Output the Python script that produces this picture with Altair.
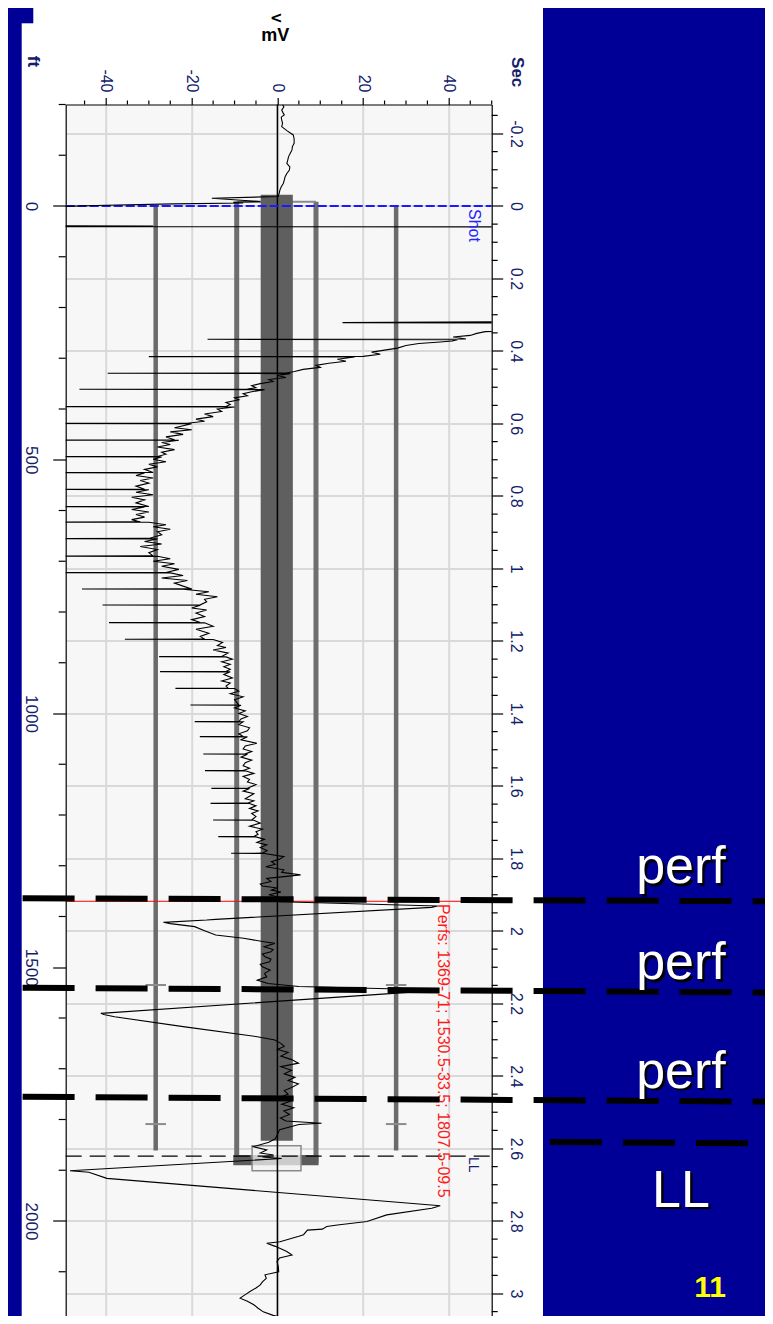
import altair as alt
import pandas as pd

BLUE = "#000096"
LABEL = "#14206a"
FONT = "Liberation Sans"

# plot-area size (pixels) and scale domains
W = 426
H = 1211.5
MV_DOMAIN = [-49.4, 50]
FT_DOMAIN = [-200, 2187.2]
SEC_DOMAIN = [-0.28, 3.0621]

# ---------------- SP trace (depth ft, mV) ----------------
trace_top = [
    (-200, 1.2), (-195, 1.5), (-189, 1.0), (-184, 1.3), (-179.5, 1.6), (-175, 0.9),
    (-169.6, 1.0), (-163, 1.2), (-156.5, 1.0), (-148.6, 2.2), (-140, 3.7), (-132, 3.9),
    (-123.6, 3.9), (-117, 3.5), (-110.5, 3.4), (-104, 3.0), (-97.4, 2.6), (-90, 2.4),
    (-84.2, 2.2), (-77, 2.9), (-71, 2.8), (-64, 2.2), (-57.9, 1.8), (-51, 1.6),
    (-44.8, 1.4), (-38, 0.9), (-31.7, 0.6), (-25, 0.4), (-18.6, 0.2), (-15.3, -15.3),
    (-8.7, -4.0), (-7.5, -10.3), (-6, -8.0), (-4.1, -24.3), (-1.5, -40), (1.2, -52),
    (2, -60), (38.5, -60), (39.5, -29), (40.5, -45), (40.8, -60), (41.2, 60),
]
trace_upper = [
    (228, 60), (229.9, 15.2), (230.6, 60), (244, 60), (247.6, 48.5), (251, 46.5),
    (255, 45), (258, 41), (262, 44), (262.7, -16.3), (263.4, 42), (266, 40.8),
    (268, 38), (271, 33), (275, 30), (280, 28), (284, 25), (288, 22), (292, 24),
    (296.3, 20), (296.8, -30), (297.5, 18), (302, 14), (306, 16), (310, 12), (314, 9),
    (318, 10), (322, 6), (326, 4), (329.2, 2), (329.7, -39.6), (330.3, 3), (334, 0),
    (338, 2), (342, -2), (346, -1), (350, -4), (354, -6), (358, -5), (360.8, -7),
    (361.2, -46.2), (361.8, -3), (366, -6), (370, -8), (374, -7), (378, -10), (382, -9),
    (387, -12), (391, -11), (395, -12), (395.4, -60), (396, -10), (400, -14), (405, -13),
    (410, -17), (415, -15), (420, -19), (424, -17), (428, -21), (428.2, -60), (428.8, -20),
    (433, -22), (437, -24), (441, -20), (445, -25), (450, -22), (455, -26), (460.7, -24),
    (461.1, -60), (461.7, -23), (466, -27), (470, -25), (475, -28), (480, -24), (485, -27),
    (489, -26), (493.5, -28), (493.9, -60), (494.5, -27), (499, -29), (504, -26),
    (509, -30), (514, -28), (519, -31), (525, -29), (525.4, -60), (526, -31), (531, -33),
    (536, -29), (541, -32), (546, -30), (552, -33), (558, -31), (558.3, -60), (559, -30),
    (564, -33), (569, -29), (574, -34), (579, -31), (585, -33), (592, -30), (592.4, -60),
    (593, -31), (598, -34), (603, -30), (608, -33), (613, -31), (618, -34), (622.5, -32),
    (622.7, -60), (623.3, -30), (628, -26), (632, -29), (637, -25), (642, -28), (648, -27),
    (655, -30), (655.5, -60), (656, -28), (661, -31), (666, -27), (671, -32), (677, -28),
    (683, -30), (689.4, -29), (689.7, -60), (690.3, -28), (695, -25), (700, -29),
    (705, -24), (710, -27), (716, -23), (722.3, -26), (722.5, -60), (723, -25), (728, -22),
    (733, -27), (738, -21), (743, -24), (749, -22), (754.5, -20), (754.7, -45.6),
    (755.2, -22), (760, -16), (765, -19), (770, -14), (775, -17), (780, -16.5), (785.9, -18),
]
trace_middle = [
    (786.2, -40.8), (786.6, -18), (792, -20), (796, -16.5), (802, -19), (809, -17),
    (815, -20), (820.7, -18), (821, -39.3), (821.4, -17), (828, -15), (834, -19),
    (842, -16), (848, -18), (853.5, -17), (853.8, -35.6), (854.2, -15), (860, -12.8),
    (866, -14), (870, -12), (875, -15), (881, -11.5), (887.7, -13), (888, -27.6),
    (888.4, -12), (893, -10.5), (898, -13), (903, -11), (908, -12.5), (913, -11),
    (917.2, -12), (917.5, -27.4), (917.9, -11), (923, -12.5), (930, -10.5), (936, -13),
    (940, -11), (946, -12), (950.1, -11.5), (950.4, -23.8), (950.8, -10), (956, -9),
    (961, -11), (967, -8), (973, -10), (978, -9.5), (983, -9), (983.2, -20.3),
    (983.6, -8.5), (989, -10), (995, -7.5), (1000, -9), (1006, -7), (1011, -8.5),
    (1015.8, -9), (1016.1, -19.3), (1016.5, -8), (1022, -9), (1028, -6.5), (1034, -7),
    (1040, -9), (1045.3, -8), (1045.6, -18.1), (1046, -7), (1052, -8.5), (1058.7, -4.8),
    (1064, -7.5), (1070, -8), (1075, -6), (1079.5, -7.5), (1079.8, -17.3), (1080.2, -7),
    (1086, -8.5), (1092, -6), (1097, -7.5), (1103, -8), (1108, -6.5), (1112.3, -8),
    (1112.6, -16.9), (1113, -7.5), (1118, -5.5), (1124, -8), (1130, -6.5), (1135, -7),
    (1140, -5), (1147.2, -7), (1147.5, -15.4), (1147.9, -6.5), (1153, -8), (1158, -5.5),
    (1163, -6.5), (1168, -7.5), (1172, -5.5), (1176.7, -7), (1177, -15.6), (1177.4, -6.5),
    (1182, -5), (1187, -6.5), (1192, -4.5), (1197, -6), (1203, -5), (1209.6, -6),
    (1209.9, -15), (1210.3, -5.5), (1216, -4), (1222, -6.5), (1228, -3.5), (1233, -5),
    (1238, -4.5), (1242.4, -5.5), (1242.7, -13.8), (1243.1, -5), (1248, -3), (1254, -4.8),
    (1259, -2.5), (1264, -4), (1270, -2.4), (1275.2, -3.5), (1275.5, -10.8), (1276, -3),
    (1282, 1.5), (1287, 0.5), (1292, -1.4), (1297, -0.5), (1302, -2.7), (1308, 1.5),
    (1313, 1), (1318, 5.4), (1322, 1), (1325, -2.5), (1331, -1.5), (1336, -4),
    (1340, -3.5), (1344, 0), (1348, -1.4),
]
trace_lower = [
    (1352, 0.8), (1357, -2), (1362, 0.5), (1366, -1), (1370.8, 0.6), (1379.3, 37.4),
    (1382, 36), (1405.6, -14.4), (1407, -16.5), (1411.5, -26.6), (1414, -25), (1420, -19.3),
    (1428, -17), (1436.6, -14.4), (1443, -7.9), (1449.7, -3.1), (1453, -0.6), (1459.6, -3.1),
    (1465, -1), (1469.5, -1.5), (1474, -3.5), (1479.3, -2.9), (1484, -1.5), (1489.2, -1.8),
    (1494, -4), (1499, -3.5), (1505.7, -1.7), (1512, -3), (1518.9, -2.5), (1525.4, -4.7),
    (1532, -2.2), (1538, 5), (1544.8, 37.4), (1546, 36.5), (1590.8, -41.2), (1593, -40.5),
    (1597.4, -38), (1617, -22), (1636.8, -4.7), (1643.4, -0.6), (1650, 0.8), (1656, 1.6),
    (1662, 0), (1668, 2.5), (1675, 0.8), (1682, 3.3), (1689, 4.9), (1696, 0.8), (1703, 3.3),
    (1710, 1.6), (1717, 4.1), (1723, 2.5), (1730, 4.9), (1737, 3.3), (1743, 1.6),
    (1750, 2.5), (1757, 0.5), (1764, 3), (1770, 1), (1777, 3.8), (1783, 1.5), (1790, 2.8),
    (1797, 0.7), (1803, 2), (1807.5, 10.3), (1810, 5), (1820, 0.5), (1830, 0),
    (1838, -0.5), (1845, -2), (1853.6, -5.6), (1860, -2.5), (1866, -4), (1870, -0.9),
    (1874, -3.5), (1877, 1.0),
]
trace_bottom = [
    (1901, -48.4), (1904, -44), (1916, -39.8), (1970, 38), (1975, 36), (1988, 25.5),
    (2001, 20.9), (2008, 14), (2011, 11.5), (2016, 10.5), (2018, 7), (2027, 6.1),
    (2030, 5), (2041, 0.6), (2044, -2.5), (2050, -0.5), (2060, 2.2), (2067, 3.4),
    (2073, 0.5), (2080, -0.1), (2090, 0.2), (2100, 0.3), (2106, -2.9), (2113, -2.6),
    (2120, -3.5), (2126, -4), (2132, -5), (2139, -6.4), (2145, -7.5), (2152, -8.7),
    (2158, -7), (2165, -5.5), (2172, -4.5), (2179, -3.3), (2186, -1), (2190, 1),
]

# ---------------- well sketch ----------------
outer_casing_mv = [-28.4, 27.7]
outer_casing_ft = [0, 1861]
cross_ft = [1535, 1809]
cross_half_mv = 2.4
casing_mv = [-9.5, 9.0]
casing_ft = [-8.5, 1885]
casing_shoe_ft = [1870, 1890]
casing_shoe_mv = [-10.3, 9.6]
tubing_mv = [-3.9, 3.6]
tubing_ft = [-22, 1842]
shoe_box_mv = [-5.9, 5.5]
shoe_box_ft = [1851.6, 1901]

shot_ft = 0
perf_line_ft = 1370
ll_ft = 1872

# ---------------- text ----------------
shot_label = ("Shot", 45.8, 5.9)
ll_label = ("LL", 45.6, 1873.9)
perfs_label = ("Perfs: 1369-71; 1530.5-33.5; 1807.5-09.5", 38.7, 1375.4)

# overlay dashed markers (depth at left end, depth at right end)
marker_left_ft = [1364.1, 1540.3, 1755.1]
marker_right_ft = [1370.0, 1549.8, 1764.9]
ll_marker_ft = [1844.3, 1847.3]
overlay_labels = ["perf", "perf", "perf", "LL"]
overlay_label_ft = [1334, 1523.2, 1737.9, 1972.4]
slide_number = "11"
slide_number_ft = 2149.8
top_glyph = "<"

# ---------------- axis ticks ----------------
ft_major = [0, 500, 1000, 1500, 2000]
ft_minor = [v for v in range(-200, 2101, 100) if v % 500 != 0]
mv_major = [-40, -20, 0, 20, 40]
mv_minor = [-45, -35, -30, -25, -15, -10, -5, 5, 10, 15, 25, 30, 35, 45, 50]
sec_major = [round(-0.2 + 0.2 * i, 1) for i in range(17)]
sec_minor = [round(-0.25 + 0.05 * i, 2) for i in range(67)]
sec_minor = [v for v in sec_minor if abs(v * 5 - round(v * 5)) > 1e-6]

top_axis = alt.Axis(
    orient="top", values=mv_major, labelAngle=90, labelAlign="right", labelBaseline="middle",
    labelPadding=5.5, tickSize=7, tickColor="black", tickWidth=1.2,
    domainColor="black", domainWidth=1.2, grid=True, gridColor="#d9d9d9", gridWidth=2,
    labelFont=FONT, labelFontSize=16, labelColor=LABEL, labelExpr="'' + datum.value",
    labelOverlap=False, labelFlush=False,
    title="mV", titleX=209, titleY=-69.5, titleAngle=0, titleAlign="center",
    titleBaseline="middle", titleFont=FONT, titleFontSize=18, titleFontWeight="bold",
    titleColor="black")

left_axis = alt.Axis(
    orient="left", values=ft_major, labelAngle=90, labelAlign="center", labelBaseline="top",
    labelPadding=14.5, tickSize=13, tickColor="black", tickWidth=1.2,
    domainColor="black", domainWidth=1.2, grid=False,
    labelFont=FONT, labelFontSize=17, labelColor=LABEL, labelExpr="'' + datum.value",
    labelOverlap=False, labelFlush=False,
    title="ft", titleX=-32.7, titleY=-43.5, titleAngle=90, titleAlign="center",
    titleBaseline="middle", titleFont=FONT, titleFontSize=17, titleFontWeight="bold",
    titleColor=LABEL)

right_axis = alt.Axis(
    orient="right", values=sec_major, labelAngle=90, labelAlign="center",
    labelBaseline="alphabetic", labelPadding=7.5, tickSize=11, tickColor="black",
    tickWidth=1.2, domainColor="black", domainWidth=1.2, grid=True, gridColor="#d9d9d9",
    gridWidth=2, labelFont=FONT, labelFontSize=16, labelColor=LABEL,
    labelExpr="'' + round(datum.value * 10) / 10", labelOverlap=False, labelFlush=False,
    title="Sec", titleX=25.2, titleY=-32.8, titleAngle=90, titleAlign="center",
    titleBaseline="middle", titleFont=FONT, titleFontSize=17, titleColor=LABEL)

# ---------------- helpers ----------------
one = pd.DataFrame({"a": [0]})


def X(field):
    return alt.X(field, type="quantitative",
                 scale=alt.Scale(domain=MV_DOMAIN, nice=False, zero=False), axis=top_axis)


def Y(field):
    return alt.Y(field, type="quantitative",
                 scale=alt.Scale(domain=FT_DOMAIN, reverse=True, nice=False, zero=False),
                 axis=left_axis)


def blue_rect(x0, x1, y0, y1):
    return alt.Chart(one).mark_rect(color=BLUE).encode(
        x=alt.value(x0), x2=alt.value(x1), y=alt.value(y0), y2=alt.value(y1))


layers = []

# slide background outside the white panel
layers.append(blue_rect(-57.7, -44.0, -96.5, H))
layers.append(blue_rect(-57.7, -32.4, -96.5, -81.2))
layers.append(blue_rect(477.3, 700, -96.5, H))

# stray glyph above the axis title
layers.append(alt.Chart(pd.DataFrame({"t": [top_glyph]})).mark_text(
    font="DejaVu Sans", fontSize=15, fontWeight="bold", color="black",
    align="center", baseline="middle").encode(
    x=alt.value(210.5), y=alt.value(-86.5), text="t"))

# minor ticks
layers.append(alt.Chart(pd.DataFrame({"v": mv_minor})).mark_rule(
    color="black", strokeWidth=1.2).encode(
    x=X("v"), y=alt.value(-4), y2=alt.value(0)))
layers.append(alt.Chart(pd.DataFrame({"v": ft_minor})).mark_rule(
    color="black", strokeWidth=1.2).encode(
    y=Y("v"), x=alt.value(-7), x2=alt.value(0)))

# outer casing lines with crosses
outer_df = pd.DataFrame({"mv": outer_casing_mv, "top": outer_casing_ft[0],
                         "bot": outer_casing_ft[1]})
layers.append(alt.Chart(outer_df).mark_rule(color="#6b6b6b", strokeWidth=4.5).encode(
    x=X("mv"), y=Y("top"), y2="bot"))
cross_rows = [{"x0": m - cross_half_mv, "x1": m + cross_half_mv, "ft": f}
              for m in outer_casing_mv for f in cross_ft]
layers.append(alt.Chart(pd.DataFrame(cross_rows)).mark_rule(
    color="#8c8c8c", strokeWidth=2).encode(x=X("x0"), x2="x1", y=Y("ft")))

# inner casing
casing_df = pd.DataFrame({"mv": casing_mv, "top": casing_ft[0], "bot": casing_ft[1]})
layers.append(alt.Chart(casing_df).mark_rule(color="#6e6e6e", strokeWidth=5).encode(
    x=X("mv"), y=Y("top"), y2="bot"))
layers.append(alt.Chart(pd.DataFrame({"x0": [casing_mv[0]], "x1": [casing_mv[1]],
                                      "ft": [casing_ft[0]]})).mark_rule(
    color="#8a8a8a", strokeWidth=2).encode(x=X("x0"), x2="x1", y=Y("ft")))
layers.append(alt.Chart(pd.DataFrame({"x0": [casing_shoe_mv[0]], "x1": [casing_shoe_mv[1]],
                                      "y0": [casing_shoe_ft[0]], "y1": [casing_shoe_ft[1]]}))
              .mark_rect(color="#5c5c5c").encode(x=X("x0"), x2="x1", y=Y("y0"), y2="y1"))

# tubing
layers.append(alt.Chart(pd.DataFrame({"x0": [tubing_mv[0]], "x1": [tubing_mv[1]],
                                      "y0": [tubing_ft[0]], "y1": [tubing_ft[1]]}))
              .mark_rect(color="#5f5f5f").encode(x=X("x0"), x2="x1", y=Y("y0"), y2="y1"))

# shoe box
layers.append(alt.Chart(pd.DataFrame({"x0": [shoe_box_mv[0]], "x1": [shoe_box_mv[1]],
                                      "y0": [shoe_box_ft[0]], "y1": [shoe_box_ft[1]]}))
              .mark_rect(fill="#f2f2f2", fillOpacity=0.75, stroke="#8a8a8a",
                         strokeWidth=1.5)
              .encode(x=X("x0"), x2="x1", y=Y("y0"), y2="y1"))

# zero line
layers.append(alt.Chart(pd.DataFrame({"mv": [0], "top": [FT_DOMAIN[0]],
                                      "bot": [FT_DOMAIN[1]]}))
              .mark_rule(color="black", strokeWidth=1.5)
              .encode(x=X("mv"), y=Y("top"), y2="bot"))


# horizontal markers across the track
def edge_df(f):
    return pd.DataFrame({"x0": [MV_DOMAIN[0]], "x1": [MV_DOMAIN[1]], "ft": [f]})


layers.append(alt.Chart(edge_df(shot_ft)).mark_rule(
    color="#1a1aff", strokeWidth=2, strokeDash=[9, 3]).encode(
    x=X("x0"), x2="x1", y=Y("ft")))
layers.append(alt.Chart(edge_df(perf_line_ft)).mark_rule(
    color="#ff0000", strokeWidth=1).encode(x=X("x0"), x2="x1", y=Y("ft")))
layers.append(alt.Chart(edge_df(ll_ft)).mark_rule(
    color="black", strokeWidth=1.2, strokeDash=[16, 8]).encode(
    x=X("x0"), x2="x1", y=Y("ft")))

# SP trace
trace = trace_top + trace_upper + trace_middle + trace_lower + trace_bottom
trace_df = pd.DataFrame({"ft": [p[0] for p in trace], "mv": [p[1] for p in trace],
                         "i": list(range(len(trace)))})
layers.append(alt.Chart(trace_df).mark_line(
    clip=True, color="black", strokeWidth=1.1).encode(
    x=X("mv"), y=Y("ft"), order=alt.Order("i:Q")))


# chart labels
def track_text(lbl, color, size):
    return alt.Chart(pd.DataFrame({"t": [lbl[0]], "mv": [lbl[1]], "ft": [lbl[2]]})) \
        .mark_text(angle=90, align="left", baseline="middle", font=FONT,
                   fontSize=size, color=color) \
        .encode(x=X("mv"), y=Y("ft"), text="t")


layers.append(track_text(shot_label, "#2323ff", 16))
layers.append(track_text(ll_label, LABEL, 14))
layers.append(track_text(perfs_label, "#ff1a1a", 16))

# overlay dashed black markers
mk_df = pd.DataFrame({"l": marker_left_ft, "r": marker_right_ft})
layers.append(alt.Chart(mk_df).mark_rule(
    color="black", strokeWidth=6, strokeDash=[52, 21], strokeCap="butt").encode(
    x=alt.value(-43.1), x2=alt.value(707), y=Y("l"), y2="r"))
layers.append(alt.Chart(pd.DataFrame({"l": [ll_marker_ft[0]], "r": [ll_marker_ft[1]]}))
              .mark_rule(color="black", strokeWidth=6, strokeDash=[52, 21],
                         strokeCap="butt")
              .encode(x=alt.value(484.3), x2=alt.value(707), y=Y("l"), y2="r"))

# overlay labels with drop shadow
ov_df = pd.DataFrame({"t": overlay_labels, "ft": overlay_label_ft})
for col, d in (("black", 2.5), ("white", 0)):
    layers.append(alt.Chart(ov_df).mark_text(
        align="center", baseline="alphabetic", font=FONT, fontSize=52, color=col,
        dx=d, dy=d).encode(x=alt.value(615.3), y=Y("ft"), text="t"))

layers.append(alt.Chart(pd.DataFrame({"t": [slide_number], "ft": [slide_number_ft]}))
              .mark_text(align="center", baseline="alphabetic", font=FONT, fontSize=30,
                         fontWeight="bold", color="#ffff00")
              .encode(x=alt.value(644.3), y=Y("ft"), text="t"))

ft_group = alt.layer(*layers)

sec_layer = alt.Chart(pd.DataFrame({"v": sec_minor})).mark_rule(
    color="black", strokeWidth=1.2).encode(
    y=alt.Y("v:Q", scale=alt.Scale(domain=SEC_DOMAIN, reverse=True, nice=False, zero=False),
            axis=right_axis),
    x=alt.value(W), x2=alt.value(W + 6))

chart = alt.layer(ft_group, sec_layer).resolve_scale(y="independent").properties(
    width=W, height=H,
    autosize=alt.AutoSizeParams(type="none"),
    padding={"left": 57.7, "top": 96.5, "right": 273.3, "bottom": 0},
    background="white",
).configure_view(stroke=None, fill="#f7f7f7")

chart.save("out.html", embed_options={"renderer": "svg", "actions": False})
